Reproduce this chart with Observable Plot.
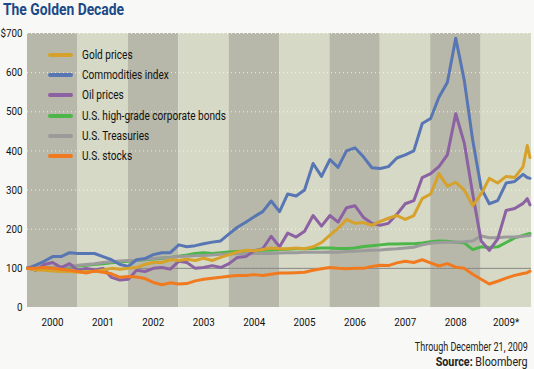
<!DOCTYPE html>
<html><head><meta charset="utf-8">
<script src="https://cdn.jsdelivr.net/npm/d3@7"></script>
<script src="https://cdn.jsdelivr.net/npm/@observablehq/plot@0.6"></script>
<style>
html,body{margin:0;padding:0;}
body{background:#f8f8f6;width:534px;height:369px;overflow:hidden;position:relative;font-family:Roboto,"Liberation Sans",sans-serif;}
#title{position:absolute;left:3px;top:0px;font-size:16px;font-weight:bold;color:#1b4a87;line-height:19px;white-space:nowrap;transform-origin:left center;}
#chart{position:absolute;left:0;top:25px;}
#legend{position:absolute;left:48px;top:45px;}
.row{position:relative;height:20.2px;line-height:20px;font-size:12.5px;color:#111;}
.sw{position:absolute;left:0;top:8px;width:25px;height:4px;border-radius:2px;}
.lab{position:absolute;left:34px;top:0;white-space:nowrap;transform-origin:left center;}
.foot{position:absolute;right:6px;font-size:12px;color:#222;white-space:nowrap;line-height:14px;transform-origin:right center;}
</style></head>
<body>
<div id="title">The Golden Decade</div>
<div id="chart"></div>
<div id="legend"></div>
<div class="foot" id="f1" style="top:340px">Through December 21, 2009</div>
<div class="foot" id="f2" style="top:355px"><b>Source:</b> Bloomberg</div>
<script>
const dates = ["2000-01-01","2000-03-01","2000-05-01","2000-07-01","2000-09-01","2000-11-01",
"2001-01-01","2001-03-01","2001-05-01","2001-07-01","2001-09-01","2001-11-01",
"2002-01-01","2002-03-01","2002-05-01","2002-07-01","2002-09-01","2002-11-01",
"2003-01-01","2003-03-01","2003-05-01","2003-07-01","2003-09-01","2003-11-01",
"2004-01-01","2004-03-01","2004-05-01","2004-07-01","2004-09-01","2004-11-01",
"2005-01-01","2005-03-01","2005-05-01","2005-07-01","2005-09-01","2005-11-01",
"2006-01-01","2006-03-01","2006-05-01","2006-07-01","2006-09-01","2006-11-01",
"2007-01-01","2007-03-01","2007-05-01","2007-07-01","2007-09-01","2007-11-01",
"2008-01-01","2008-03-01","2008-05-01","2008-07-01","2008-09-01","2008-11-01",
"2009-01-01","2009-03-01","2009-05-01","2009-07-01","2009-09-01","2009-11-01",
"2009-12-01","2009-12-21"];

const gold = [100,96,95,93,92,92, 90,92,92,96,100,98, 100,102,110,115,115,122, 120,123,120,126,120,128, 135,142,146,145,148,152, 150,150,152,150,155,166, 185,202,225,215,217,210, 220,228,235,225,235,278, 290,342,310,320,300,260, 290,330,318,335,332,360, 414,383];
const commodities = [100,108,118,130,130,140, 138,138,138,130,122,110, 105,122,125,135,140,140, 160,155,158,163,167,170, 188,205,218,232,245,272, 245,290,285,300,368,335, 378,358,400,408,385,357, 355,360,382,390,400,470, 483,537,575,688,580,427, 305,265,273,318,322,340, 332,330];
const oil = [102,95,110,115,102,112, 95,100,96,100,77,70, 72,95,92,100,102,98, 118,115,100,102,107,102, 112,128,130,145,150,182, 155,190,180,195,235,208, 235,218,255,260,230,215, 210,215,238,265,273,332, 342,360,390,495,420,290, 170,146,175,248,253,266, 278,262];
const bonds = [100,100,101,102,103,104, 106,108,110,112,114,116, 118,120,122,124,126,128, 131,134,138,140,138,140, 142,143,144,145,146,147, 148,149,150,150,151,152, 152,151,151,152,156,158, 160,162,162,163,163,165, 168,170,169,167,165,148, 155,153,155,166,178,184, 187,189];
const treasuries = [100,101,102,103,104,106, 108,110,112,115,117,119, 120,121,123,125,127,128, 130,131,132,133,134,136, 137,138,137,138,138,138, 139,140,140,141,141,141, 142,141,143,144,145,146, 147,149,150,152,154,160, 164,166,167,167,168,170, 183,178,178,180,180,182, 183,184];
const stocks = [100,100,102,100,98,95, 92,88,93,90,86,77, 79,78,74,64,58,63, 60,61,68,72,75,77, 80,82,82,84,82,85, 88,88,89,90,95,99, 102,100,99,100,100,105, 108,107,114,118,115,122, 114,106,112,103,100,85, 72,60,67,75,82,87, 89,93];

const seriesNames = ["Gold prices","Commodities index","Oil prices","U.S. high-grade corporate bonds","U.S. Treasuries","U.S. stocks"];
const seriesColors = ["#d6a22b","#5876b3","#8c62a2","#4cb748","#9b9b9b","#f17a1f"];
const seriesValues = [gold, commodities, oil, bonds, treasuries, stocks];
const drawOrder = [3,4,2,1,0,5];

const years = [2000,2001,2002,2003,2004,2005,2006,2007,2008,2009];
const yearLabels = ["2000","2001","2002","2003","2004","2005","2006","2007","2008","2009*"];
const yTicks = [0,100,200,300,400,500,600,700];
const gridTicks = [100,200,300,400,500,600,700];

const parse = d3.utcParse("%Y-%m-%d");
const dt = dates.map(parse);
const bands = years.map((y,i)=>({x1:new Date(Date.UTC(y,0,1)), x2:new Date(Date.UTC(y+1,0,1)), dark: i%2===0}));
const labels = years.map((y,i)=>({x:new Date(Date.UTC(y,6,1)), t:yearLabels[i]}));

const marks = [
  Plot.rect(bands, {x1:"x1", x2:"x2", y1:0, y2:700, fill: d=>d.dark?"#b7b8a9":"#d6d9c6"}),
  Plot.ruleY(gridTicks, {stroke:"#ffffff", strokeOpacity:0.75, strokeDasharray:"1,3"}),
  Plot.ruleY([100], {stroke:"#858585", strokeWidth:1}),
];
for (const i of drawOrder) {
  const vals = seriesValues[i];
  const rows = dt.map((d,j)=>({date:d, value:vals[j]}));
  marks.push(Plot.line(rows, {x:"date", y:"value", stroke:seriesColors[i], strokeWidth:3, strokeLinejoin:"round", strokeLinecap:"round"}));
}
marks.push(Plot.axisY(yTicks, {label:null, tickSize:0, tickPadding:5, tickFormat:d=>d===700?"$700":String(d), fontSize:11.5, fill:"#111"}));
marks.push(Plot.text(labels, {x:"x", text:"t", frameAnchor:"bottom", dy:18, fontSize:11.5, fill:"#111"}));

const chart = Plot.plot({
  width:534, height:320,
  marginTop:8, marginBottom:38, marginLeft:27, marginRight:3,
  style:{background:"transparent", fontFamily:'Roboto,"Liberation Sans",sans-serif', fontSize:"11.5px", overflow:"visible"},
  x:{type:"utc", domain:[new Date(Date.UTC(2000,0,1)), new Date(Date.UTC(2010,0,1))], axis:null},
  y:{domain:[0,700], axis:null},
  marks
});
document.getElementById("chart").appendChild(chart);

// condense SVG text to mimic the narrow typeface
const texts = Array.from(chart.querySelectorAll("text"));
const ref = texts.find(t=>t.textContent==="$700");
const s = ref ? 22/ref.getComputedTextLength() : 0.85;
texts.forEach(t=>{
  const L = t.getComputedTextLength();
  if (L>0){ t.setAttribute("textLength", (L*s).toFixed(2)); t.setAttribute("lengthAdjust","spacingAndGlyphs"); }
});

const leg = document.getElementById("legend");
const labs = [];
seriesNames.forEach((n,i)=>{
  const r = document.createElement("div"); r.className="row";
  const sw = document.createElement("span"); sw.className="sw"; sw.style.background=seriesColors[i];
  const l = document.createElement("span"); l.className="lab"; l.textContent=n;
  r.appendChild(sw); r.appendChild(l); leg.appendChild(r); labs.push(l);
});
function fit(el, target){ const w = el.getBoundingClientRect().width; if (w>0) el.style.transform = `scaleX(${target/w})`; }
const ls = 144/labs[3].getBoundingClientRect().width;
labs.forEach(l=>l.style.transform=`scaleX(${ls})`);
fit(document.getElementById("title"), 121);
fit(document.getElementById("f1"), 113);
fit(document.getElementById("f2"), 92);
</script>
</body></html>
